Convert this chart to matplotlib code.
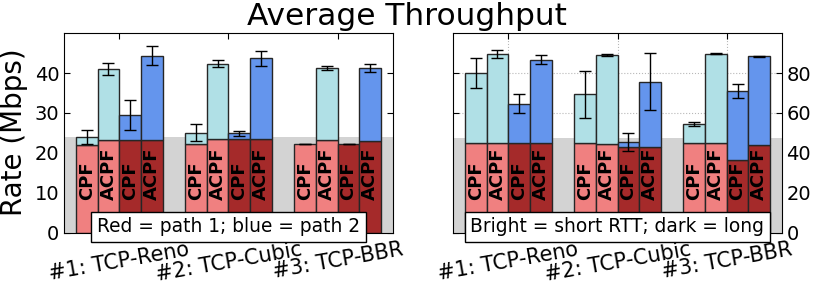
import matplotlib
matplotlib.use("Agg")
import matplotlib.pyplot as plt
import matplotlib.transforms as mtransforms

plt.rcParams['font.family'] = ['DejaVu Sans']

groups = ["#1: TCP-Reno", "#2: TCP-Cubic", "#3: TCP-BBR"]
bar_labels = ["CPF", "ACPF", "CPF", "ACPF"]

# Left panel (Mbps): path 1 (red) and total (path1 + path2)
left_path1 = [[22.0, 23.2, 23.1, 23.2],
              [22.2, 23.5, 23.5, 23.5],
              [22.2, 23.3, 22.2, 22.9]]
left_total = [[24.0, 41.1, 29.5, 44.4],
              [25.1, 42.4, 24.9, 43.7],
              [22.2, 41.2, 22.2, 41.3]]
left_err = [[1.8, 1.5, 3.7, 2.3],
            [2.2, 0.9, 0.6, 1.9],
            [0.1, 0.5, 0.1, 0.9]]
left_band = 23.9

# Right panel
right_path1 = [[45.0, 44.7, 44.7, 44.7],
               [44.7, 44.3, 42.7, 42.7],
               [45.0, 44.7, 36.2, 43.7]]
right_total = [[80.0, 89.7, 64.7, 86.7],
               [69.3, 89.0, 45.5, 75.8],
               [54.5, 89.7, 71.0, 88.5]]
right_err = [[7.4, 2.1, 4.7, 2.3],
             [11.7, 0.5, 4.7, 14.1],
             [0.9, 0.3, 3.6, 0.3]]
right_band = 47.5

red_colors = ["lightcoral", "lightcoral", "brown", "brown"]
blue_colors = ["powderblue", "powderblue", "cornflowerblue", "cornflowerblue"]

fig = plt.figure(figsize=(8.14, 2.88), dpi=100)
axL = fig.add_axes([64.3 / 814, 55.5 / 288, 328.4 / 814, 199.2 / 288])
axR = fig.add_axes([453.3 / 814, 55.5 / 288, 328.4 / 814, 199.2 / 288])

width = 0.2


def draw(ax, p1, tot, err, band, ymax, yticks, legend_text, grid):
    ax.set_axisbelow(True)
    ax.axhspan(0, band, color="lightgray", zorder=1, lw=0)
    trans = mtransforms.blended_transform_factory(ax.transData, ax.transAxes)
    for g in range(len(groups)):
        for i in range(4):
            x = g + i * width
            r = p1[g][i]
            t = tot[g][i]
            ax.bar(x, r, width, align="edge", color=red_colors[i],
                   edgecolor="#262626", linewidth=1.0, zorder=2)
            if t - r > 0.05:
                ax.bar(x, t - r, width, bottom=r, align="edge",
                       color=blue_colors[i], edgecolor="#262626",
                       linewidth=1.0, zorder=2)
            ax.errorbar(x + width / 2, t, yerr=err[g][i], color="black",
                        capsize=4, elinewidth=1, capthick=1, zorder=3)
            ax.text(x + width / 2, 0.165, bar_labels[i], transform=trans,
                    rotation=90, ha="center", va="bottom", fontsize=13,
                    fontweight="bold", zorder=4)
    ax.set_xlim(-0.105, 2.905)
    ax.set_ylim(0, ymax)
    ax.set_yticks(yticks)
    ax.set_xticks([g + 0.4 for g in range(len(groups))])
    ax.set_xticklabels(groups, rotation=10, ha="center", fontsize=15)
    ax.tick_params(axis="both", direction="in", top=True, bottom=True,
                   left=True, right=True, labelsize=14, length=4)
    ax.tick_params(axis="x", labelsize=15, pad=5)
    if grid:
        ax.grid(True, linestyle=":", color="#b8b8b8", linewidth=0.8)
    ax.text(0.5, -0.02, legend_text, transform=ax.transAxes, ha="center",
            va="bottom", fontsize=13.4, zorder=5,
            bbox=dict(boxstyle="square,pad=0.3", facecolor="white",
                      edgecolor="black", linewidth=1))


draw(axL, left_path1, left_total, left_err, left_band, 50,
     [0, 10, 20, 30, 40], "Red = path 1; blue = path 2", False)
draw(axR, right_path1, right_total, right_err, right_band, 100,
     [0, 20, 40, 60, 80], "Bright = short RTT; dark = long", True)
axR.tick_params(axis="y", labelleft=False, labelright=True)

fig.text(14 / 814, 1 - 132.5 / 288, "Rate (Mbps)", rotation=90,
         ha="center", va="center", fontsize=20)
fig.text(0.5, 1 - 25 / 288, "Average Throughput", ha="center",
         va="baseline", fontsize=22.5)

fig.savefig("out.png", dpi=100)
